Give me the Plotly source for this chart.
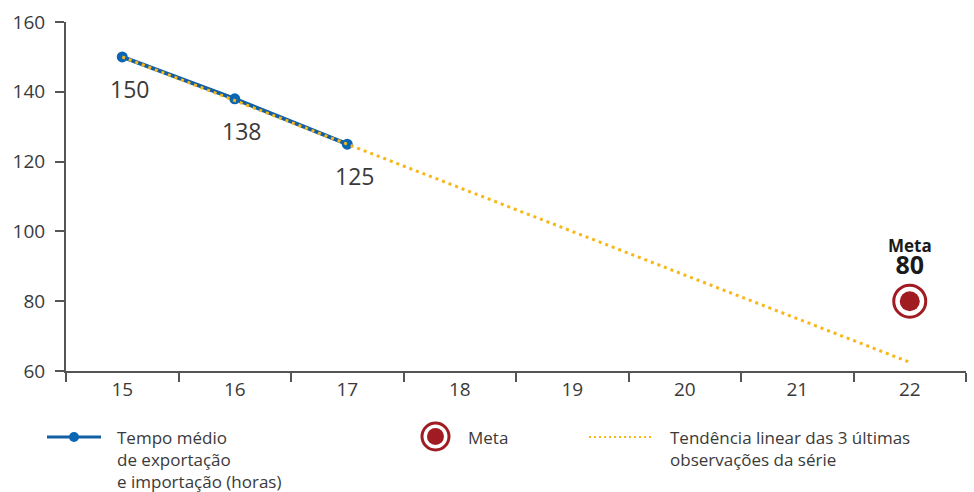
import plotly.graph_objects as go

# ---- data ----
years = [15, 16, 17, 18, 19, 20, 21, 22]
obs_years = [15, 16, 17]
obs_values = [150, 138, 125]
trend_values = [150, 137.5, 125, 112.5, 100, 87.5, 75, 62.5]
meta_year = [22]
meta_value = [80]
y_ticks = [60, 80, 100, 120, 140, 160]

BLUE_LINE = "#135fa3"
BLUE_MARK = "#0a66b2"
YELLOW = "#f7b718"
RED = "#a11c22"
AXIS = "#555555"
TXT = "#3a3a3a"
FONT = "Open Sans"

fig = go.Figure()

fig.add_trace(go.Scatter(
    x=obs_years, y=obs_values, mode="lines+markers",
    line=dict(color=BLUE_LINE, width=4),
    marker=dict(color=BLUE_MARK, size=11),
    showlegend=False, hoverinfo="skip"))

fig.add_trace(go.Scatter(
    x=years, y=trend_values, mode="lines",
    line=dict(color=YELLOW, width=3, dash="3px,4px"),
    showlegend=False, hoverinfo="skip"))

fig.add_trace(go.Scatter(
    x=meta_year, y=meta_value, mode="markers",
    marker=dict(size=32, color="white", line=dict(color=RED, width=3)),
    showlegend=False, hoverinfo="skip"))
fig.add_trace(go.Scatter(
    x=meta_year, y=meta_value, mode="markers",
    marker=dict(size=20, color=RED),
    showlegend=False, hoverinfo="skip"))

annotations = []
for xv, yv in zip(obs_years, obs_values):
    annotations.append(dict(x=xv, y=yv, xref="x", yref="y", text=str(yv),
                            showarrow=False, xshift=7, yshift=-32,
                            font=dict(family=FONT, size=23, color=TXT)))
annotations.append(dict(x=meta_year[0], y=meta_value[0], xref="x", yref="y",
                        text="<b>Meta</b><br><span style='font-size:25px'><b>%d</b></span>" % meta_value[0],
                        showarrow=False, yanchor="bottom", yshift=19, borderpad=0,
                        font=dict(family=FONT, size=17, color="#1a1a1a")))

# ---- manual legend (pixel -> paper) ----
L, R, T, B = 66, 966, 22, 371
def px(x):
    return (x - L) / (R - L)
def py(y):
    return (B - y) / (B - T)

shapes = []
ly = 437
shapes.append(dict(type="line", xref="paper", yref="paper",
                   x0=px(47), x1=px(101), y0=py(ly), y1=py(ly),
                   line=dict(color=BLUE_LINE, width=3)))
shapes.append(dict(type="circle", xref="paper", yref="paper",
                   xsizemode="pixel", ysizemode="pixel",
                   xanchor=px(74), yanchor=py(ly),
                   x0=-5, x1=5, y0=-5, y1=5,
                   fillcolor=BLUE_MARK, line=dict(width=0)))
shapes.append(dict(type="circle", xref="paper", yref="paper",
                   xsizemode="pixel", ysizemode="pixel",
                   xanchor=px(435.5), yanchor=py(436.5),
                   x0=-13.5, x1=13.5, y0=-13.5, y1=13.5,
                   fillcolor="white", line=dict(color=RED, width=3)))
shapes.append(dict(type="circle", xref="paper", yref="paper",
                   xsizemode="pixel", ysizemode="pixel",
                   xanchor=px(435.5), yanchor=py(436.5),
                   x0=-8.5, x1=8.5, y0=-8.5, y1=8.5,
                   fillcolor=RED, line=dict(width=0)))
shapes.append(dict(type="line", xref="paper", yref="paper",
                   x0=px(589), x1=px(652), y0=py(ly), y1=py(ly),
                   line=dict(color=YELLOW, width=2, dash="2px,3px")))

legend_font = dict(family=FONT, size=17, color=TXT)
legend_blocks = [
    (116, "Tempo médio<br>de exportação<br>e importação (horas)"),
    (467, "Meta"),
    (669, "Tendência linear das 3 últimas<br>observações da série"),
]
for lx, txt in legend_blocks:
    annotations.append(dict(xref="paper", yref="paper", x=px(lx), y=py(425),
                            xanchor="left", yanchor="top", align="left",
                            showarrow=False, font=legend_font, text=txt,
                            borderpad=0))

fig.update_layout(
    width=974, height=492,
    margin=dict(l=L, r=974 - R, t=T, b=492 - B),
    paper_bgcolor="white", plot_bgcolor="white",
    font=dict(family=FONT, size=19, color=TXT),
    showlegend=False,
    shapes=shapes, annotations=annotations,
    xaxis=dict(range=[14.5, 22.5], tickmode="array", tickvals=years,
               ticktext=[str(v) for v in years], ticks="",
               showline=True, linecolor=AXIS, linewidth=2,
               showgrid=False, zeroline=False, automargin=False,
               tickfont=dict(family=FONT, size=19, color=TXT),
               minor=dict(tickmode="array",
                          tickvals=[v - 0.5 for v in years] + [years[-1] + 0.5],
                          ticks="outside", ticklen=9, tickcolor=AXIS, tickwidth=2)),
    yaxis=dict(range=[60, 160], tickmode="array", tickvals=y_ticks,
               ticks="outside", ticklen=9, tickcolor=AXIS, tickwidth=2,
               showline=True, linecolor=AXIS, linewidth=2,
               showgrid=False, zeroline=False, ticklabelstandoff=6,
               automargin=False,
               tickfont=dict(family=FONT, size=19, color=TXT)),
)

fig.write_html("out.html", config={"displayModeBar": False},
               post_script="document.body.style.margin='0';")
